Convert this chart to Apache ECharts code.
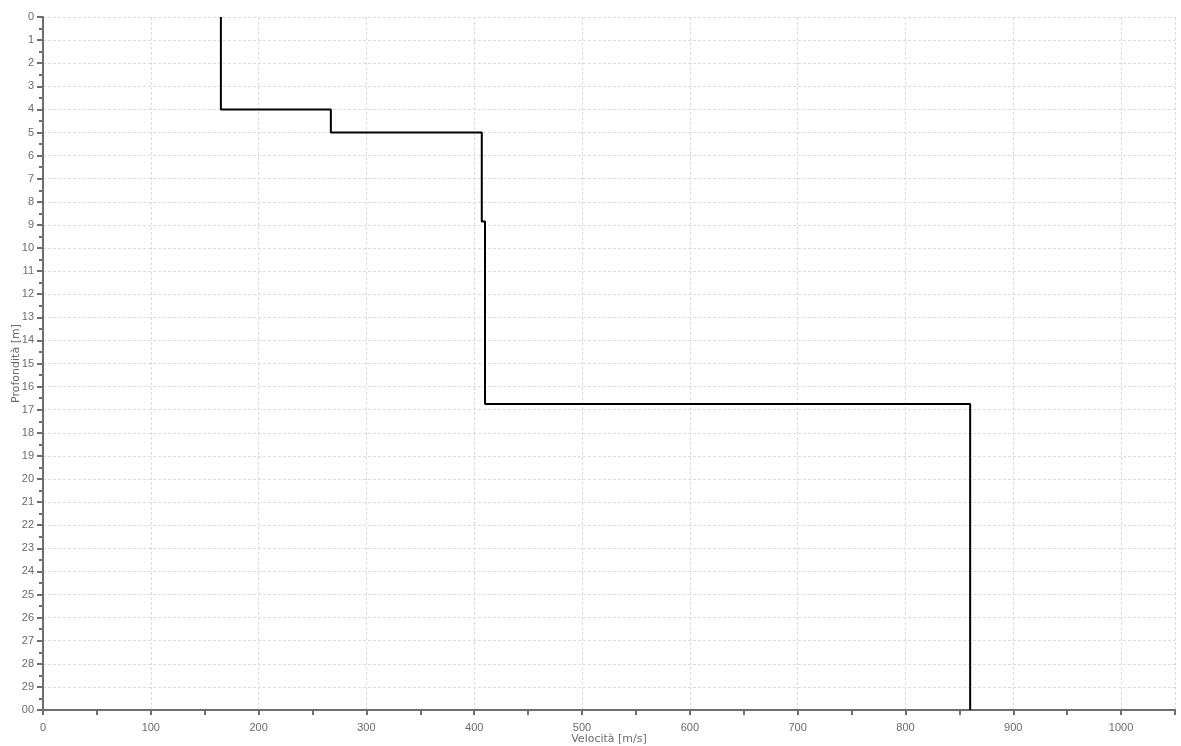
<!DOCTYPE html>
<html>
<head>
<meta charset="utf-8">
<script src="https://cdn.jsdelivr.net/npm/echarts@6/dist/echarts.min.js"></script>
<style>
  html, body { margin: 0; padding: 0; background: #fff; }
  #chart { width: 1181px; height: 746px; }
</style>
</head>
<body>
<div id="chart"></div>
<script>
// Shear-wave velocity profile: each layer runs from topDepth to bottomDepth at one velocity
const layerTop = [0, 4, 5, 8.85, 16.75];
const layerBottom = [4, 5, 8.85, 16.75, 30];
const layerVelocity = [165, 267, 407, 410, 860];
const depthTickLabels = ['0','1','2','3','4','5','6','7','8','9','10','11','12','13','14','15',
  '16','17','18','19','20','21','22','23','24','25','26','27','28','29','00'];

// Build the stepped polyline: vertical segment per layer, horizontal jump at each interface
const profile = [];
for (let i = 0; i < layerVelocity.length; i++) {
  profile.push([layerVelocity[i], layerTop[i]]);
  profile.push([layerVelocity[i], layerBottom[i]]);
}

const labelFont = { fontFamily: 'Liberation Sans', fontSize: 11, color: '#6b6b6b' };
const axisGray = '#6e6e6e';

const chart = echarts.init(document.getElementById('chart'), null, { renderer: 'canvas' });
chart.setOption({
  animation: false,
  backgroundColor: '#ffffff',
  grid: { left: 43, right: 6, top: 17, bottom: 36, containLabel: false, outerBoundsMode: 'none' },
  xAxis: {
    type: 'value',
    min: 0, max: 1050, interval: 100,
    name: 'Velocità [m/s]',
    nameLocation: 'middle',
    nameGap: 24,
    nameMoveOverlap: false,
    nameTextStyle: { fontFamily: 'DejaVu Sans', fontSize: 11, color: '#6b6b6b' },
    axisLine: { show: true, onZero: false, lineStyle: { color: axisGray, width: 2 } },
    axisTick: { show: true, length: 5, lineStyle: { color: axisGray, width: 2 } },
    minorTick: { show: true, splitNumber: 2, length: 5, lineStyle: { color: axisGray, width: 2 } },
    axisLabel: Object.assign({ margin: 12, showMaxLabel: false, formatter: (v) => String(v) }, labelFont),
    splitLine: { show: true, lineStyle: { color: '#dcdcdc', type: [3, 2], width: 1 } }
  },
  yAxis: {
    type: 'value',
    inverse: true,
    min: 0, max: 30, interval: 1,
    name: 'Profondità [m]',
    nameLocation: 'middle',
    nameGap: 21,
    nameMoveOverlap: false,
    nameRotate: 90,
    nameTextStyle: { fontFamily: 'DejaVu Sans', fontSize: 11, color: '#6b6b6b' },
    axisLine: { show: true, onZero: false, lineStyle: { color: axisGray, width: 2 } },
    axisTick: { show: true, length: 6, lineStyle: { color: axisGray, width: 2 } },
    minorTick: { show: true, splitNumber: 2, length: 4, lineStyle: { color: axisGray, width: 2 } },
    axisLabel: Object.assign({
      margin: 9,
      formatter: (v) => depthTickLabels[Math.round(v)]
    }, labelFont),
    splitLine: { show: true, lineStyle: { color: '#dcdcdc', type: [3, 2], width: 1 } }
  },
  series: [{
    type: 'line',
    data: profile,
    symbol: 'none',
    lineStyle: { color: '#000000', width: 2 },
    clip: true
  }]
});
</script>
</body>
</html>
